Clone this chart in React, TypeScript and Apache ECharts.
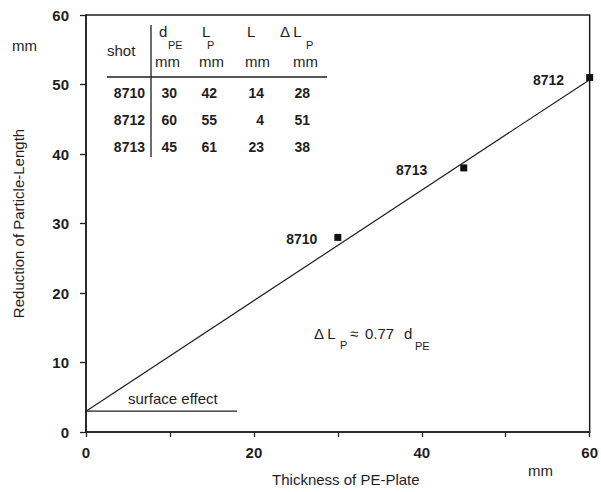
import React, { useEffect, useRef } from "react";
import * as echarts from "echarts";

const shots = ["8710", "8712", "8713"];
const dPE = [30, 60, 45];
const LP = [42, 55, 61];
const Lrem = [14, 4, 23];
const dLP = [28, 51, 38];
const pointLabelDist = [17, 22, 33];
const fitLine: [number, number][] = [[0, 3], [60, 50.7]];
const surfaceLine: [number, number][] = [[0, 3], [18, 3]];
const xLabels = [0, 20, 40, 60];

const FONT = "'Liberation Sans', Arial, sans-serif";
const INK = "#1e1e1e";

export default function App() {
  const ref = useRef<HTMLDivElement>(null);
  useEffect(() => {
    const chart = echarts.init(ref.current!, null, { renderer: "svg" });
    const t = (x: number, y: number, text: string, size = 14, weight: any = "normal", align: any = "left") => ({
      type: "text",
      x,
      y,
      style: { text, fontSize: size, fontFamily: FONT, fontWeight: weight, fill: INK, textAlign: align, textVerticalAlign: "middle" },
    });
    const colRight = [145, 177, 217, 264, 310];
    const rowY = [93, 120, 147];
    const tableTexts: any[] = [];
    shots.forEach((s, i) => {
      const vals = [s, String(dPE[i]), String(LP[i]), String(Lrem[i]), String(dLP[i])];
      vals.forEach((v, j) => tableTexts.push(t(colRight[j], rowY[i], v, 14, "bold", "right")));
    });
    const graphic: any[] = [
      t(107, 50, "shot", 15),
      t(159, 31, "d", 15),
      t(168, 45, "PE", 11),
      t(155, 61, "mm", 15),
      t(202, 31, "L", 15),
      t(207, 45, "P", 11),
      t(199, 61, "mm", 15),
      t(247, 31, "L", 15),
      t(245, 61, "mm", 15),
      t(280, 31, "Δ L", 15),
      t(306, 45, "P", 11),
      t(293, 61, "mm", 15),
      ...tableTexts,
      { type: "line", shape: { x1: 151, y1: 25, x2: 151, y2: 157 }, style: { stroke: INK, lineWidth: 1.3 } },
      { type: "line", shape: { x1: 107, y1: 77, x2: 327, y2: 77 }, style: { stroke: INK, lineWidth: 1.3 } },
      t(314, 333, "Δ L", 15),
      t(340, 345, "P", 11),
      t(350, 333, "≈", 15),
      t(365, 333, "0.77", 15),
      t(404, 333, "d", 15),
      t(415, 346, "PE", 11),
      t(128, 398, "surface effect", 15),
      t(12, 45, "mm", 15),
      t(528, 470, "mm", 15),
    ];
    chart.setOption({
      animation: false,
      grid: { left: 86, right: 9, top: 15, bottom: 59, show: true, borderColor: INK, borderWidth: 1.5, backgroundColor: "transparent" },
      xAxis: {
        type: "value",
        min: 0,
        max: 60,
        interval: 10,
        name: "Thickness of PE-Plate",
        nameLocation: "middle",
        nameGap: 40,
        nameTextStyle: { fontSize: 15, fontFamily: FONT, color: INK, padding: [0, 0, 0, 16] },
        axisLine: { lineStyle: { color: INK, width: 1.5 } },
        axisTick: { length: 5, lineStyle: { color: INK, width: 1.3 } },
        splitLine: { show: false },
        axisLabel: {
          margin: 13,
          fontSize: 15,
          fontWeight: "bold",
          fontFamily: FONT,
          color: INK,
          formatter: (v: number) => (xLabels.includes(v) ? String(v) : ""),
        },
      },
      yAxis: {
        type: "value",
        min: 0,
        max: 60,
        interval: 10,
        name: "Reduction of Particle-Length",
        nameLocation: "middle",
        nameGap: 60,
        nameTextStyle: { fontSize: 15, fontFamily: FONT, color: INK },
        axisLine: { show: true, lineStyle: { color: INK, width: 1.5 } },
        axisTick: { show: true, length: 6, lineStyle: { color: INK, width: 1.3 } },
        splitLine: { show: false },
        axisLabel: { margin: 17, fontSize: 15, fontWeight: "bold", fontFamily: FONT, color: INK },
      },
      series: [
        {
          type: "line",
          data: fitLine,
          symbol: "none",
          lineStyle: { color: INK, width: 1.2 },
        },
        {
          type: "line",
          data: surfaceLine,
          symbol: "none",
          lineStyle: { color: INK, width: 1.2 },
        },
        {
          type: "scatter",
          symbol: "rect",
          symbolSize: 7,
          itemStyle: { color: "#111", opacity: 1 },
          data: shots.map((s, i) => ({
            value: [dPE[i], dLP[i]],
            label: {
              show: true,
              position: "left",
              distance: pointLabelDist[i],
              offset: [0, 2],
              formatter: s,
              fontSize: 14,
              fontWeight: "bold",
              fontFamily: FONT,
              color: INK,
              opacity: 1,
              textBorderWidth: 0,
            },
          })),
        },
      ],
      graphic,
    });
    return () => chart.dispose();
  }, []);
  return <div ref={ref} style={{ width: 601, height: 492, position: "absolute", left: 0, top: 0, background: "#fff" }} />;
}
